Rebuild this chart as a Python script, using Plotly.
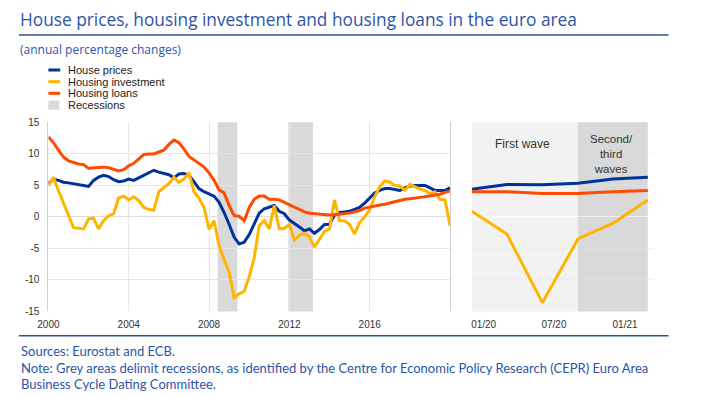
import pandas as pd
import plotly.graph_objects as go

# ---------------- data ----------------
quarters = pd.date_range("2000-01-01", periods=81, freq="QS").strftime("%Y-%m-%d").tolist()

house_prices = [
    5.3, 6.0, 5.8, 5.5, 5.4, 5.3, 5.1, 5.0, 4.85, 5.8, 6.3, 6.6, 6.4, 5.9, 5.6, 5.7,
    6.0, 5.8, 6.2, 6.6, 7.0, 7.4, 7.1, 6.9, 6.7, 6.2, 6.8, 6.9, 6.6, 5.6, 4.5, 4.0,
    3.7, 3.3, 2.3, 0.7, -1.2, -3.2, -4.3, -4.0, -2.8, -1.2, 0.6, 1.3, 1.6, 1.8, 0.9, 0.5,
    -0.5, -1.0, -1.6, -2.2, -1.9, -2.6, -2.0, -1.2, -1.2, 0.3, 0.7, 0.8, 0.9, 1.2, 1.5, 2.2,
    3.0, 3.8, 4.2, 4.5, 4.5, 4.3, 4.2, 4.6, 4.9, 5.0, 5.0, 5.0, 4.6, 4.2, 4.2, 4.2, 4.6,
]
housing_investment = [
    5.0, 6.3, 4.2, 2.2, 0.2, -1.7, -1.8, -1.9, -0.3, -0.2, -1.9, -0.6, 0.2, 0.5, 3.0, 3.3,
    2.7, 3.2, 2.6, 1.5, 1.2, 1.05, 4.0, 4.6, 5.3, 6.3, 5.5, 6.0, 7.0, 4.0, 3.0, 1.5,
    -2.0, -0.6, -4.5, -6.8, -8.8, -12.8, -12.2, -11.8, -9.5, -6.5, -1.4, -0.6, -1.9, 1.8, -1.9, -1.8,
    -1.2, -3.7, -2.9, -2.6, -3.2, -4.8, -3.5, -2.3, -1.9, 2.7, -0.6, -0.6, -1.2, -2.7, -0.9, 0.0,
    1.15, 3.2, 4.8, 5.7, 5.5, 5.0, 4.9, 4.2, 5.15, 4.8, 4.4, 4.2, 3.7, 4.0, 2.8, 2.7, -1.4,
]
housing_loans = [
    12.7, 11.8, 10.6, 9.5, 8.9, 8.6, 8.4, 8.3, 7.7, 7.8, 7.9, 7.9, 7.8, 7.6, 7.3, 7.5,
    8.1, 8.5, 9.2, 9.9, 10.0, 10.0, 10.3, 10.6, 11.5, 12.2, 11.8, 10.8, 9.6, 9.1, 8.5, 7.9,
    7.0, 5.8, 4.3, 3.8, 1.8, 0.2, 0.1, -0.6, 1.5, 2.8, 3.3, 3.3, 2.8, 2.8, 2.7, 2.3,
    1.9, 1.5, 1.2, 0.8, 0.6, 0.5, 0.4, 0.3, 0.3, 0.35, 0.4, 0.5, 0.6, 0.8, 1.0, 1.4,
    1.6, 1.8, 1.9, 2.0, 2.2, 2.5, 2.7, 2.8, 2.9, 2.95, 3.1, 3.2, 3.3, 3.4, 3.6, 3.9, 4.1,
]

covid_dates = ["2019-12-01", "2020-03-01", "2020-06-01", "2020-09-01", "2020-12-01", "2021-03-01"]
covid_house_prices = [4.4, 5.15, 5.1, 5.35, 6.0, 6.3]
covid_housing_investment = [0.9, -2.7, -13.6, -3.5, -1.0, 2.7]
covid_housing_loans = [4.0, 4.0, 3.7, 3.7, 4.0, 4.2]

recession_start = ["2008-06-05", "2011-12-12"]
recession_end = ["2009-05-30", "2013-03-05"]
wave_start = ["2019-12-01", "2020-09-01"]
wave_end = ["2020-09-01", "2021-03-01"]
wave_labels = ["First wave", "Second/<br>third<br>waves"]

left_ticks = ["2000-01-01", "2004-01-01", "2008-01-01", "2012-01-01", "2016-01-01"]
left_tick_text = ["2000", "2004", "2008", "2012", "2016"]
right_ticks = ["2020-01-01", "2020-07-01", "2021-01-01"]
right_tick_text = ["01/20", "07/20", "01/21"]
y_ticks = [-15, -10, -5, 0, 5, 10, 15]
y_tick_text = ["-15", "-10", "-5", "0", "5", "10", "15"]

series_names = ["House prices", "Housing investment", "Housing loans"]
colors = ["#003299", "#FFB400", "#FF4B00"]

# ---------------- figure ----------------
W, H = 705, 397


def px(x):
    return x / W


def py(y):
    return 1 - y / H


fig = go.Figure()

left_vals = [house_prices, housing_investment, housing_loans]
right_vals = [covid_house_prices, covid_housing_investment, covid_housing_loans]
for name, col, lv, rv in zip(series_names, colors, left_vals, right_vals):
    fig.add_trace(go.Scatter(x=quarters, y=lv, mode="lines", name=name,
                             line=dict(color=col, width=3), xaxis="x", yaxis="y",
                             showlegend=False))
    fig.add_trace(go.Scatter(x=covid_dates, y=rv, mode="lines", name=name,
                             line=dict(color=col, width=3), xaxis="x2", yaxis="y2",
                             showlegend=False))

shapes = []
for s, e in zip(recession_start, recession_end):
    shapes.append(dict(type="rect", xref="x", yref="paper", x0=s, x1=e, y0=py(315), y1=py(120),
                       fillcolor="#d9d9d9", line=dict(width=0), layer="below"))
wave_colors = ["#f2f2f2", "#d9d9d9"]
for s, e, c in zip(wave_start, wave_end, wave_colors):
    shapes.append(dict(type="rect", xref="x2", yref="paper", x0=s, x1=e, y0=py(315), y1=py(120),
                       fillcolor=c, line=dict(width=0), layer="below"))

# header / footer rules
rule_col = "#2b4f9e"
shapes.append(dict(type="line", xref="paper", yref="paper", x0=px(8), x1=px(668),
                   y0=py(30), y1=py(30), line=dict(color=rule_col, width=1.5)))
shapes.append(dict(type="line", xref="paper", yref="paper", x0=px(8), x1=px(668),
                   y0=py(340), y1=py(340), line=dict(color=rule_col, width=1.5)))

# manual legend
leg_y = [66, 78, 90]
for col, yy in zip(colors, leg_y):
    shapes.append(dict(type="line", xref="paper", yref="paper", x0=px(38), x1=px(50),
                       y0=py(yy), y1=py(yy), line=dict(color=col, width=3)))
shapes.append(dict(type="rect", xref="paper", yref="paper", x0=px(38), x1=px(49),
                   y0=py(107), y1=py(97.5), fillcolor="#d9d9d9", line=dict(width=0)))

annotations = []
text_blue = "#2b55a6"
annotations.append(dict(text="House prices, housing investment and housing loans in the euro area",
                        xref="paper", yref="paper", x=px(7), y=py(14), xanchor="left", yanchor="middle",
                        showarrow=False, font=dict(family="Open Sans", size=17.3, color=text_blue)))
annotations.append(dict(text="(annual percentage changes)", xref="paper", yref="paper",
                        x=px(7), y=py(45), xanchor="left", yanchor="middle", showarrow=False,
                        font=dict(family="Open Sans", size=12, color=text_blue)))
for name, yy in zip(series_names + ["Recessions"], leg_y + [102]):
    annotations.append(dict(text=name, xref="paper", yref="paper", x=px(56), y=py(yy),
                            xanchor="left", yanchor="middle", showarrow=False,
                            font=dict(family="Liberation Sans", size=11, color="#222222")))

notes = ["Sources: Eurostat and ECB.",
         "Note: Grey areas delimit recessions, as identified by the Centre for Economic Policy Research (CEPR) Euro Area",
         "Business Cycle Dating Committee."]
for t, yy in zip(notes, [356, 373, 390]):
    annotations.append(dict(text=t, xref="paper", yref="paper", x=px(8), y=py(yy),
                            xanchor="left", yanchor="middle", showarrow=False,
                            font=dict(family="Lato", size=13, color=text_blue)))

# wave labels
annotations.append(dict(text=wave_labels[0], xref="x2 domain", yref="paper", x=0.283, y=py(142),
                        xanchor="center", yanchor="middle", showarrow=False,
                        font=dict(family="Liberation Sans", size=12, color="#333333")))
annotations.append(dict(text=wave_labels[1], xref="x2 domain", yref="paper", x=0.772, y=py(153),
                        xanchor="center", yanchor="middle", showarrow=False,
                        font=dict(family="Liberation Sans", size=11.5, color="#333333")))

grid_col = "#e6e6e6"
tick_font = dict(family="Liberation Sans", size=10, color="#333333")
ydom = [py(315), py(120)]

fig.update_layout(
    width=W, height=H,
    margin=dict(l=0, r=0, t=0, b=0),
    paper_bgcolor="white", plot_bgcolor="rgba(0,0,0,0)",
    showlegend=False,
    shapes=shapes, annotations=annotations,
    xaxis=dict(domain=[px(38), px(446)], range=["2000-01-01", "2020-01-01"],
               tickvals=left_ticks, ticktext=left_tick_text, showgrid=True,
               gridcolor=grid_col, gridwidth=1, zeroline=False, showline=False,
               ticks="", tickfont=tick_font, ticklabelstandoff=6, anchor="y"),
    yaxis=dict(domain=ydom, range=[-15, 15], tickvals=y_ticks, ticktext=y_tick_text,
               showgrid=True, gridcolor=grid_col, zeroline=True, zerolinecolor="#dcdcdc",
               zerolinewidth=1, showline=True, linecolor="#d0d0d0", linewidth=1, mirror=True,
               ticks="", tickfont=tick_font, ticklabelstandoff=6, anchor="x"),
    xaxis2=dict(domain=[px(468), px(652)], range=["2019-12-01", "2021-03-14"],
                tickvals=right_ticks, ticktext=right_tick_text, showgrid=False,
                zeroline=False, showline=False, ticks="", tickfont=tick_font,
                ticklabelstandoff=6, anchor="y2"),
    yaxis2=dict(domain=ydom, range=[-15, 15], tickvals=y_ticks, showticklabels=False,
                showgrid=True, gridcolor="rgba(230,230,230,0.5)", zeroline=True,
                zerolinecolor="rgba(255,255,255,0.6)", zerolinewidth=1, showline=False,
                ticks="", anchor="x2"),
)

fig.write_html("out.html", config={"displayModeBar": False},
               post_script="document.body.style.margin='0';")
